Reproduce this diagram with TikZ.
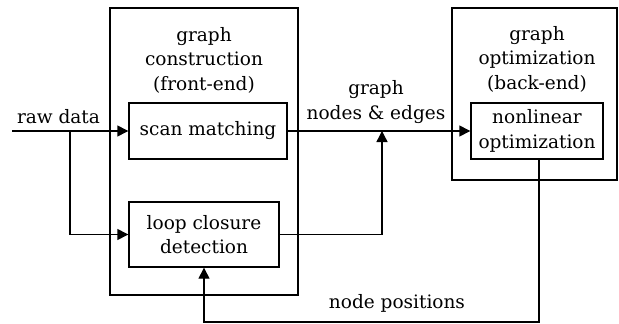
\documentclass[tikz,border=0pt]{standalone}
\usepackage{fontspec}
\setmainfont{DejaVu Serif}
\usetikzlibrary{arrows.meta}

\tikzset{
  lbl/.style={font=\fontsize{18.5}{24.5}\selectfont, align=center, inner sep=0pt},
  blk/.style={draw, line width=1.4pt, lbl},
  frame/.style={draw, line width=1.4pt},
  flow/.style={line width=1.4pt, -{Triangle[length=11pt,width=11pt]}}
}

\begin{document}
\begin{tikzpicture}[x=1pt,y=-1pt]
	\useasboundingbox (0,0) rectangle (619,324);
	% outer frames
	\node[frame, minimum width=188pt, minimum height=287pt] (front) at (204,151.5) {};
	\node[frame, minimum width=165pt, minimum height=172pt] (back) at (534.5,94) {};
	\node[lbl] (fronttitle) at (204,60) {graph\\construction\\(front-end)};
	\node[lbl] (backtitle) at (537,59) {graph\\optimization\\(back-end)};
	% inner blocks
	\node[blk, minimum width=158pt, minimum height=56pt] (scan) at (208,131) {scan matching};
	\node[blk, minimum width=150pt, minimum height=65pt] (loop) at (204,234.5) {loop closure\\detection};
	\node[blk, minimum width=132pt, minimum height=56pt] (nlopt) at (537,131) {nonlinear\\optimization};
	% connectors
	\coordinate (raw) at (12,131);
	\coordinate (split) at (70,131);
	\coordinate (merge) at (382,131);
	\coordinate (down) at (539,322);
	\draw[flow] (raw) -- (scan.west) node[lbl, pos=0.4, above=7pt] (rawlbl) {raw data};
	\draw[flow] (split) |- (loop.west);
	\draw[flow] (scan.east) -- (nlopt.west);
	\draw[flow] (loop.east) -| (merge);
	\draw[flow] (nlopt.south -| down) -- (down) -| (loop.south);
	\node[lbl] (edgelbl) at (376,102) {graph\\nodes \& edges};
	\node[lbl] (poslbl) at (397,303) {node positions};
\end{tikzpicture}
\end{document}
